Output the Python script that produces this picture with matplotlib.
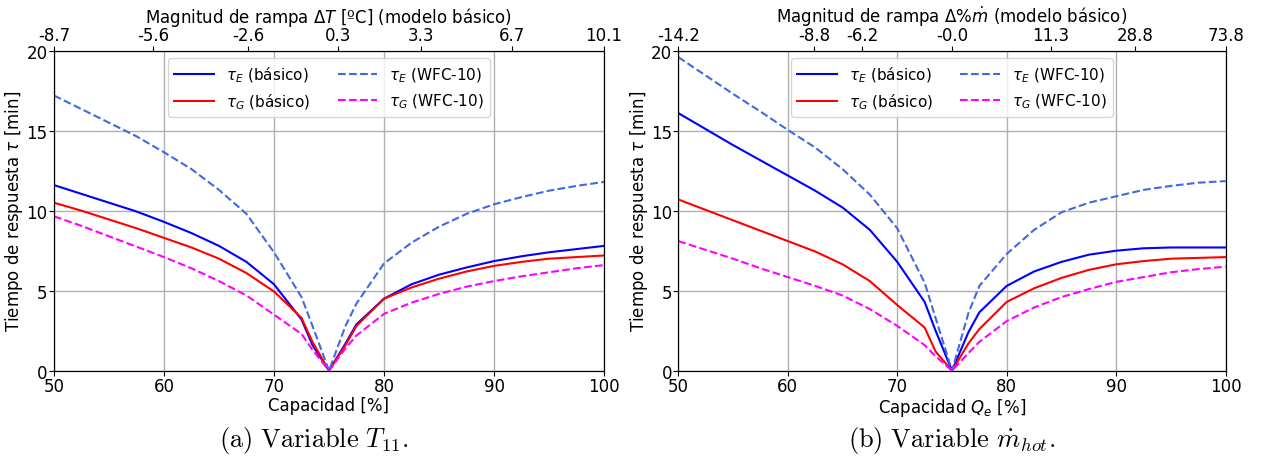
import numpy as np
import matplotlib
matplotlib.use('Agg')
import matplotlib.pyplot as plt

plt.rcParams['mathtext.fontset'] = 'dejavusans'

# capacity grid [%]
cap = [50, 52.5, 55, 57.5, 60, 62.5, 65, 67.5, 70, 72.5, 73.5, 75,
       76.5, 77.5, 80, 82.5, 85, 87.5, 90, 92.5, 95, 97.5, 100]

# (a) Variable T11
a_tauE_bas = [11.6, 11.05, 10.5, 9.95, 9.3, 8.6, 7.8, 6.8, 5.4, 3.2, 1.6, 0,
              1.7, 2.9, 4.5, 5.4, 6.0, 6.45, 6.85, 7.15, 7.4, 7.6, 7.8]
a_tauG_bas = [10.5, 10.0, 9.45, 8.9, 8.3, 7.7, 7.0, 6.1, 4.95, 3.3, 1.8, 0,
              1.6, 2.8, 4.5, 5.2, 5.75, 6.2, 6.55, 6.8, 7.0, 7.1, 7.2]
a_tauE_wfc = [17.2, 16.35, 15.5, 14.65, 13.65, 12.6, 11.3, 9.8, 7.4, 4.6, 2.8, 0,
              2.8, 4.2, 6.7, 8.0, 9.0, 9.8, 10.4, 10.85, 11.25, 11.55, 11.8]
a_tauG_wfc = [9.65, 9.05, 8.4, 7.75, 7.1, 6.4, 5.6, 4.7, 3.5, 2.3, 1.3, 0,
              1.4, 2.2, 3.55, 4.25, 4.8, 5.25, 5.6, 5.9, 6.15, 6.4, 6.6]

# (b) Variable m_hot
b_tauE_bas = [16.1, 15.1, 14.1, 13.15, 12.2, 11.25, 10.2, 8.8, 6.8, 4.3, 2.5, 0,
              2.4, 3.65, 5.3, 6.2, 6.8, 7.25, 7.5, 7.65, 7.7, 7.7, 7.7]
b_tauG_bas = [10.7, 10.05, 9.4, 8.75, 8.1, 7.45, 6.65, 5.6, 4.1, 2.7, 1.2, 0,
              1.7, 2.6, 4.3, 5.15, 5.8, 6.3, 6.65, 6.85, 7.0, 7.05, 7.1]
b_tauE_wfc = [19.6, 18.45, 17.3, 16.2, 15.05, 13.95, 12.6, 11.0, 8.9, 5.5, 3.3, 0,
              3.6, 5.3, 7.3, 8.8, 9.9, 10.5, 10.9, 11.3, 11.55, 11.75, 11.85]
b_tauG_wfc = [8.1, 7.55, 7.0, 6.4, 5.85, 5.3, 4.7, 3.85, 2.8, 1.6, 0.9, 0,
              1.1, 1.8, 3.1, 3.95, 4.6, 5.1, 5.55, 5.85, 6.15, 6.35, 6.5]

# top (secondary) axis ticks
a_top_pos = [50, 59.0, 67.65, 75.85, 83.35, 91.65, 100]
a_top_lab = ['-8.7', '-5.6', '-2.6', '0.3', '3.3', '6.7', '10.1']
b_top_pos = [50, 62.4, 66.8, 75.0, 84.0, 91.7, 100]
b_top_lab = ['-14.2', '-8.8', '-6.2', '-0.0', '11.3', '28.8', '73.8']

fs = 12
fig = plt.figure(figsize=(12.61, 4.6), dpi=100)
ax1 = fig.add_axes([0.0428, 0.192, 0.4362, 0.6956])
ax2 = fig.add_axes([0.5379, 0.192, 0.4341, 0.6956])

panels = [
    (ax1, a_tauE_bas, a_tauG_bas, a_tauE_wfc, a_tauG_wfc, a_top_pos, a_top_lab,
     'Capacidad [%]', r'Magnitud de rampa $\Delta T$ [ºC] (modelo básico)'),
    (ax2, b_tauE_bas, b_tauG_bas, b_tauE_wfc, b_tauG_wfc, b_top_pos, b_top_lab,
     r'Capacidad $Q_e$ [%]', r'Magnitud de rampa $\Delta\%\dot{m}$ (modelo básico)'),
]

for ax, eb, gb, ew, gw, tpos, tlab, xl, tl in panels:
    ax.plot(cap, eb, color='blue', lw=1.5, label=r'$\tau_E$ (básico)')
    ax.plot(cap, gb, color='red', lw=1.5, label=r'$\tau_G$ (básico)')
    ax.plot(cap, ew, color='royalblue', lw=1.5, ls='--', label=r'$\tau_E$ (WFC-10)')
    ax.plot(cap, gw, color='magenta', lw=1.5, ls='--', label=r'$\tau_G$ (WFC-10)')
    ax.set_xlim(50, 100)
    ax.set_ylim(0, 20)
    ax.set_xticks([50, 60, 70, 80, 90, 100])
    ax.set_yticks([0, 5, 10, 15, 20])
    ax.grid(True, color='#b0b0b0', lw=1)
    ax.tick_params(labelsize=fs, pad=1)
    ax.set_xlabel(xl, fontsize=fs, labelpad=1)
    ax.set_ylabel(r'Tiempo de respuesta $\tau$ [min]', fontsize=fs, labelpad=1)
    ax.legend(loc='upper center', ncol=2, fontsize=11, handlelength=2.6,
              columnspacing=1.8, borderaxespad=0.5)
    top = ax.twiny()
    top.set_xlim(50, 100)
    top.set_xticks(tpos)
    top.set_xticklabels(tlab)
    top.tick_params(labelsize=fs, pad=1)
    top.set_xlabel(tl, fontsize=fs, labelpad=3)

plt.rcParams['mathtext.fontset'] = 'cm'
fig.text(0.2485, 0.042, r'$\mathrm{(a)\ Variable\ }T_{11}\mathrm{.}$', fontsize=19,
         ha='center', va='center')
fig.text(0.755, 0.042, r'$\mathrm{(b)\ Variable\ }\dot{m}_{hot}\mathrm{.}$', fontsize=19,
         ha='center', va='center')

fig.savefig('out.png', dpi=100)
